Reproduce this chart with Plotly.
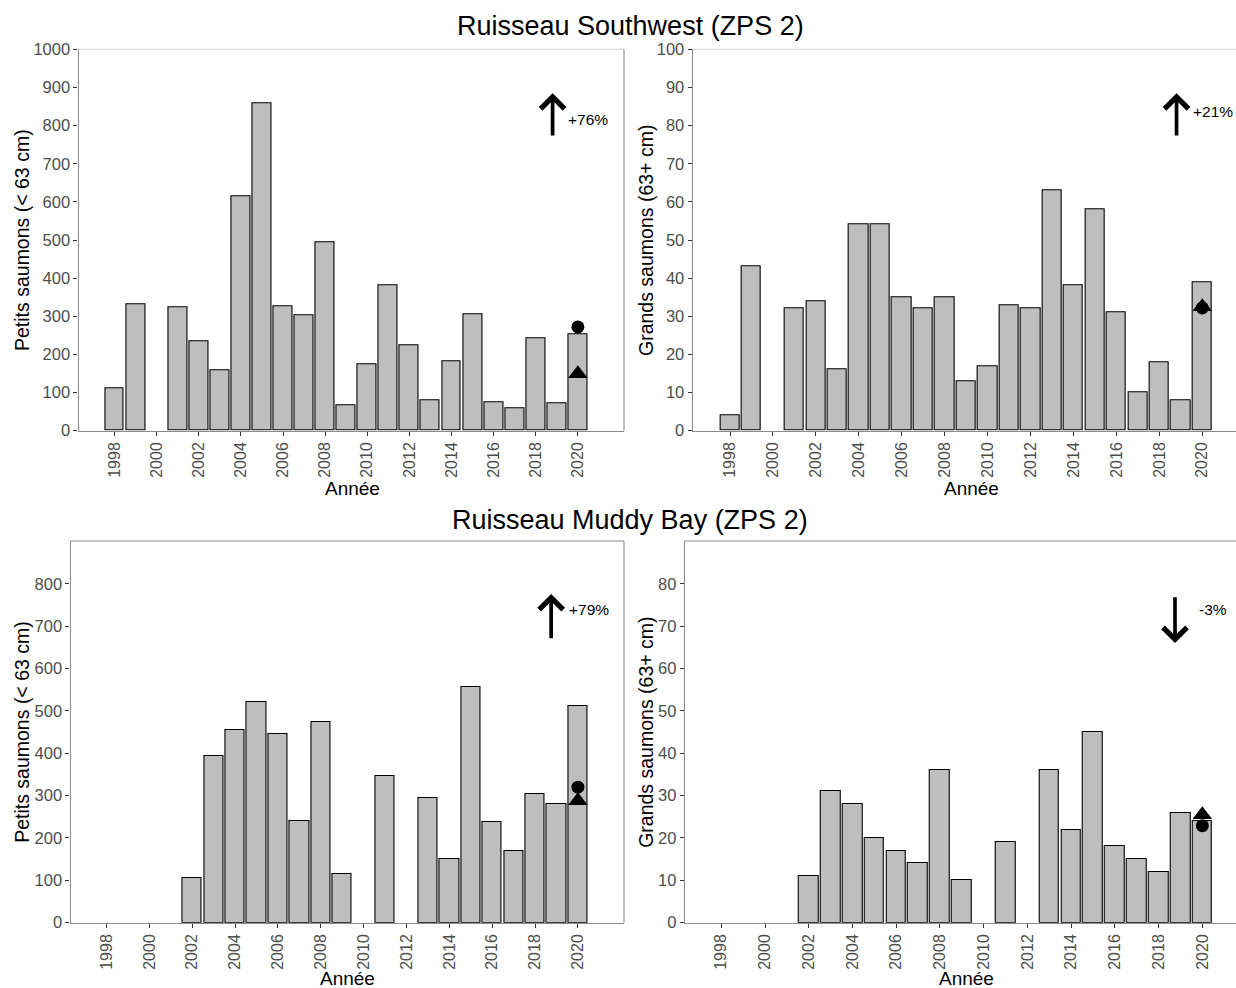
import plotly.graph_objects as go

W, H = 1236, 988

years = list(range(1998, 2021))

# Ruisseau Southwest (ZPS 2)
sw_petits = [110, 332, None, 323, 235, 158, 615, 858, 325, 302, 495, 66, 173,
             380, 225, 80, 183, 305, 74, 60, 242, 71, 254]
sw_grands = [4, 43, None, 32, 34, 16, 54, 54, 35, 32, 35, 13, 17,
             33, 32, 63, 38, 58, 31, 10, 18, 8, 39]
# Ruisseau Muddy Bay (ZPS 2)
mb_petits = [None, None, None, None, 106, 394, 454, 520, 445, 240, 474, 114, None,
             347, None, 295, 151, 556, 238, 170, 303, 280, 511]
mb_grands = [None, None, None, None, 11, 31, 28, 20, 17, 14, 36, 10, None,
             19, None, 36, 22, 45, 18, 15, 12, 26, 24]

# 2020 point estimates (circle, triangle)
pt_year = 2020
circle_vals = [272, 32.2, 320, 22.9]
triangle_vals = [149, 32.5, 288, 25.5]

# Trend arrows: (x, tail, head) and label
trend_x = [2018.8, 2018.8, 2018.75, 2018.75]
trend_tail = [770, 77, 668, 77.2]
trend_head = [885, 88.5, 776, 66]
trend_text = ["+76%", "+21%", "+79%", "-3%"]
trend_text_x = [2020.5, 2020.5, 2020.5, 2020.5]
trend_text_y = [815, 83.8, 739, 73.9]

titles = ["Ruisseau Southwest (ZPS 2)", "Ruisseau Muddy Bay (ZPS 2)"]
ylab_small = "Petits saumons (< 63 cm)"
ylab_large = "Grands saumons (63+ cm)"
xlab = "Année"
xticks = list(range(1998, 2021, 2))

series = [sw_petits, sw_grands, mb_petits, mb_grands]

# panel geometry in pixels: left, right, top, bottom
panels = [
    (78.5, 624, 49.3, 430.7),
    (692.7, 1236, 49.3, 430.7),
    (70.5, 624, 541, 922.7),
    (684.8, 1236, 541, 922.7),
]
xranges = [[1996.29, 2022.19], [1996.26, 2021.57], [1996.32, 2022.15], [1996.33, 2021.54]]
yranges = [[0, 1000], [0, 100], [0, 901], [0, 90.1]]
ydticks = [100, 10, 100, 10]
ymaxtick = [1000, 100, 800, 80]

FONT = "Liberation Sans, Arial, sans-serif"
fig = go.Figure()
layout = dict(width=W, height=H, margin=dict(l=0, r=0, t=0, b=0, autoexpand=False),
              paper_bgcolor="white", plot_bgcolor="white", showlegend=False,
              font=dict(family=FONT))
annotations = []
shapes = []

for i in range(4):
    xa = "x" if i == 0 else f"x{i+1}"
    ya = "y" if i == 0 else f"y{i+1}"
    fig.add_trace(go.Bar(x=years, y=series[i], width=0.9, xaxis=xa, yaxis=ya,
                         marker=dict(color="#BEBEBE", line=dict(color="black", width=1.1))))
    fig.add_trace(go.Scatter(x=[pt_year], y=[triangle_vals[i]], mode="markers", xaxis=xa, yaxis=ya,
                             marker=dict(symbol="triangle-up", size=17, color="black")))
    fig.add_trace(go.Scatter(x=[pt_year], y=[circle_vals[i]], mode="markers", xaxis=xa, yaxis=ya,
                             marker=dict(symbol="circle", size=13, color="black")))
    l, r, t, b = panels[i]
    xd = [l / W, min(r / W, 1.0)]
    yd = [(H - b) / H, (H - t) / H]
    key = "xaxis" if i == 0 else f"xaxis{i+1}"
    ykey = "yaxis" if i == 0 else f"yaxis{i+1}"
    layout[key] = dict(domain=xd, range=xranges[i], anchor=ya, tickvals=xticks,
                       ticktext=[str(v) for v in xticks], tickangle=-90, automargin=False,
                       ticks="outside", ticklen=4, tickcolor="#333333", tickwidth=1,
                       showline=True, linecolor="#8C8C8C", linewidth=1.2,
                       showgrid=False, zeroline=False,
                       tickfont=dict(size=16, color="#4D4D4D", family=FONT))
    layout[ykey] = dict(domain=yd, range=yranges[i], anchor=xa, automargin=False,
                        tickvals=list(range(0, ymaxtick[i] + 1, ydticks[i])),
                        ticks="outside", ticklen=4, tickcolor="#333333", tickwidth=1,
                        showline=True, linecolor="#8C8C8C", linewidth=1.2,
                        showgrid=False, zeroline=False,
                        tickfont=dict(size=16.5, color="#4D4D4D", family=FONT))
    topcol = "#D9D9D9" if i < 2 else "#8C8C8C"
    shapes.append(dict(type="line", xref=f"{xa} domain", yref=f"{ya} domain",
                       x0=0, x1=1, y0=1, y1=1, line=dict(color=topcol, width=1.2)))
    if i in (0, 2):
        shapes.append(dict(type="line", xref=f"{xa} domain", yref=f"{ya} domain",
                           x0=1, x1=1, y0=0, y1=1, line=dict(color="#9A9A9A", width=1.2)))
    # trend arrow
    annotations.append(dict(x=trend_x[i], y=trend_head[i], ax=trend_x[i], ay=trend_tail[i],
                            xref=xa, yref=ya, axref=xa, ayref=ya, text="",
                            showarrow=True, arrowhead=4, arrowsize=1.25, arrowwidth=3.7,
                            arrowcolor="black"))
    annotations.append(dict(x=trend_text_x[i], y=trend_text_y[i], xref=xa, yref=ya,
                            xanchor="center", yanchor="middle",
                            text=trend_text[i], showarrow=False,
                            font=dict(size=15.5, color="black", family=FONT)))
    # axis titles
    ylab = ylab_small if i in (0, 2) else ylab_large
    ytx = [22, 646, 22, 646][i]
    annotations.append(dict(x=ytx / W, y=(H - (t + b) / 2) / H, xref="paper", yref="paper",
                            xanchor="center", yanchor="middle",
                            text=ylab, textangle=-90, showarrow=False,
                            font=dict(size=19.5, color="black", family=FONT)))
    xtx = [352, 971, 347, 966][i]
    xty = [488, 488, 978.5, 978.5][i]
    annotations.append(dict(x=xtx / W, y=(H - xty) / H, xref="paper", yref="paper",
                            xanchor="center", yanchor="middle",
                            text=xlab, showarrow=False,
                            font=dict(size=19, color="black", family=FONT)))

# section titles
for txt, yc in zip(titles, [26, 520]):
    annotations.append(dict(x=630 / W, y=(H - yc) / H, xref="paper", yref="paper",
                            xanchor="center", yanchor="middle",
                            text=txt, showarrow=False,
                            font=dict(size=27, color="black", family=FONT)))

layout["annotations"] = annotations
layout["shapes"] = shapes
layout["bargap"] = 0
fig.update_layout(**layout)
fig.write_html("out.html")
